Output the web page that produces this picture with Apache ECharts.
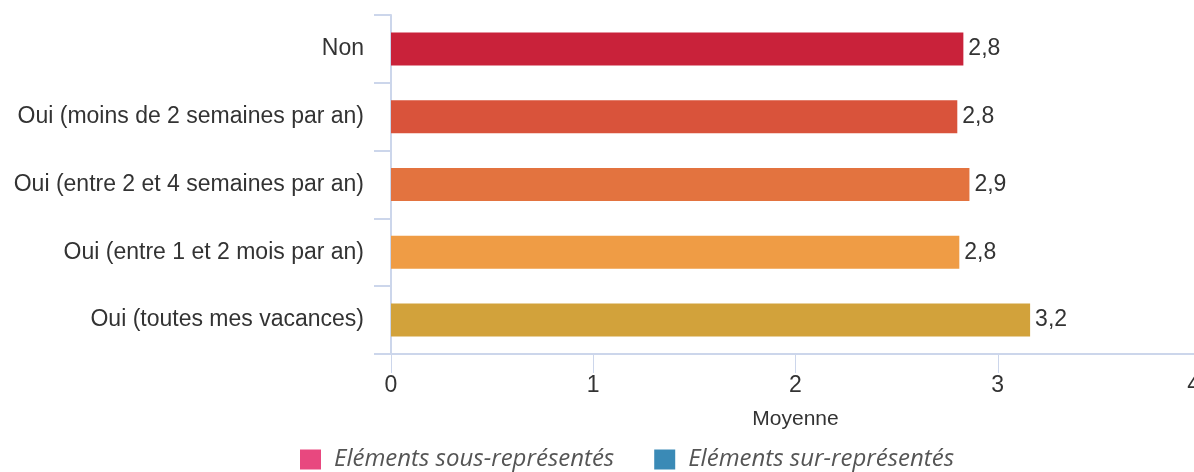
<!DOCTYPE html>
<html>
<head>
<meta charset="utf-8">
<script src="https://cdn.jsdelivr.net/npm/echarts@6/dist/echarts.min.js"></script>
<style>
  html, body { margin: 0; padding: 0; background: #fff; }
  #chart { width: 1194px; height: 472px; }
</style>
</head>
<body>
<div id="chart"></div>
<script>
// Average score by holiday answer
const categories = [
  'Non',
  'Oui (moins de 2 semaines par an)',
  'Oui (entre 2 et 4 semaines par an)',
  'Oui (entre 1 et 2 mois par an)',
  'Oui (toutes mes vacances)'
];
const moyennes = [2.83, 2.80, 2.86, 2.81, 3.16];
const xTicks = [0, 1, 2, 3, 4];
const legendNames = ['Eléments sous-représentés', 'Eléments sur-représentés'];

const barColors = ['#C9223A', '#D9533B', '#E3733F', '#EF9C45', '#D2A23B'];
const legendColors = ['#E8487F', '#3A8AB6'];
const axisColor = '#ccd6eb';
const textColor = '#333333';
const sansFont = '"Liberation Sans", Arial, sans-serif';

const chart = echarts.init(document.getElementById('chart'), null, { renderer: 'canvas' });

const legendSeries = legendNames.map((name, i) => ({
  name: name,
  type: 'line',
  data: [],
  itemStyle: { color: legendColors[i] },
  lineStyle: { color: legendColors[i] }
}));

chart.setOption({
  animation: false,
  grid: {
    left: 391, right: -6, top: 15, bottom: 118,
    containLabel: false, outerBoundsMode: 'none'
  },
  legend: {
    data: legendNames.map(n => ({ name: n, icon: 'rect' })),
    left: 300,
    top: 447,
    padding: 0,
    itemWidth: 21,
    itemHeight: 20,
    itemGap: 40,
    textStyle: {
      fontFamily: '"Open Sans", sans-serif',
      fontStyle: 'italic',
      fontSize: 24,
      lineHeight: 22,
      color: '#555555',
      padding: [3, 0, 0, 8]
    }
  },
  xAxis: {
    type: 'value',
    min: xTicks[0],
    max: xTicks[xTicks.length - 1],
    interval: 1,
    name: 'Moyenne',
    nameLocation: 'middle',
    nameGap: 55,
    nameTextStyle: { color: textColor, fontSize: 21, fontFamily: sansFont },
    axisLine: { show: true, lineStyle: { color: axisColor, width: 2 } },
    axisTick: { show: true, length: 19, lineStyle: { color: axisColor, width: 1 } },
    axisLabel: {
      color: textColor, fontSize: 23, fontFamily: sansFont, margin: 20,
      showMinLabel: true, showMaxLabel: true, hideOverlap: false,
      alignMaxLabel: 'right',
      formatter: v => String(v)
    },
    splitLine: { show: false }
  },
  yAxis: {
    type: 'category',
    inverse: true,
    data: categories,
    axisLine: { show: true, lineStyle: { color: axisColor, width: 2 } },
    axisTick: { show: true, length: 17, lineStyle: { color: axisColor, width: 2 } },
    axisLabel: { color: textColor, fontSize: 23, fontFamily: sansFont, margin: 27 },
    splitLine: { show: false }
  },
  series: [
    {
      name: 'Moyenne',
      type: 'bar',
      data: moyennes,
      barWidth: 33,
      itemStyle: {
        color: p => barColors[p.dataIndex % barColors.length]
      },
      label: {
        show: true,
        position: 'right',
        distance: 5,
        color: textColor,
        fontSize: 23,
        fontFamily: sansFont,
        formatter: p => p.value.toFixed(1).replace('.', ',')
      }
    }
  ].concat(legendSeries)
});
</script>
</body>
</html>
